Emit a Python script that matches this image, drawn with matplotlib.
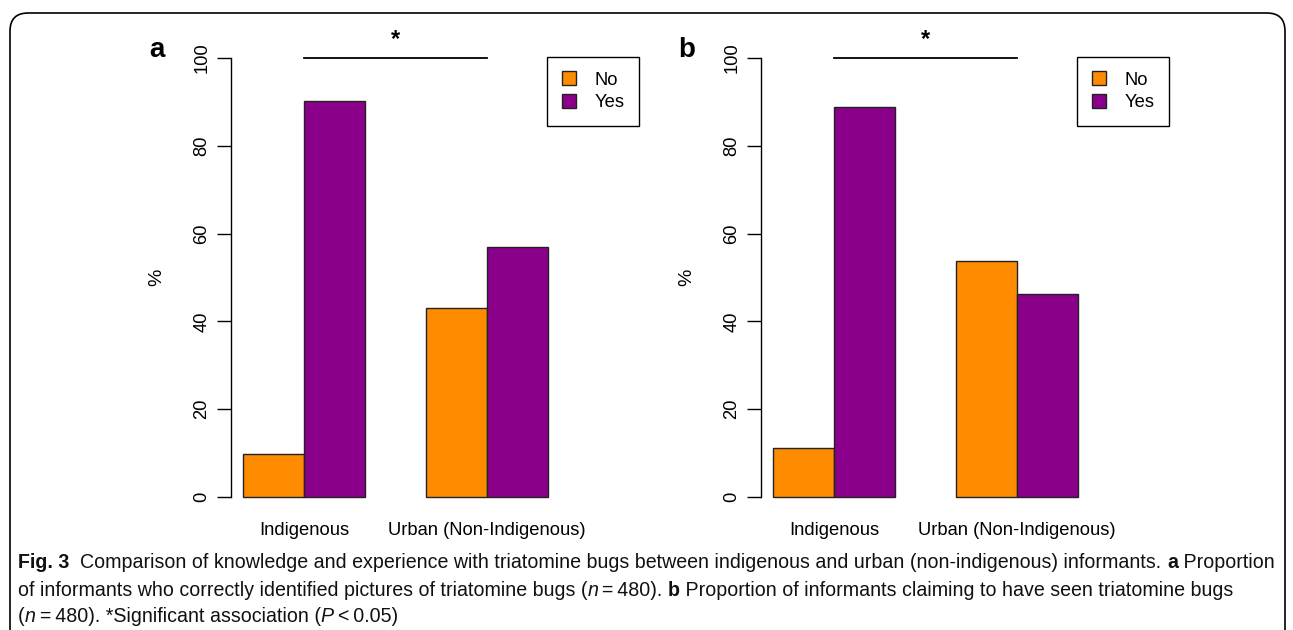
import matplotlib
matplotlib.use('Agg')
import matplotlib.pyplot as plt
from matplotlib.patches import FancyBboxPatch, Patch

groups = ['Indigenous', 'Urban (Non-Indigenous)']
answers = ['No', 'Yes']
panel_a_no = [9.8, 43.0]
panel_a_yes = [90.2, 57.0]
panel_b_no = [11.2, 53.7]
panel_b_yes = [88.8, 46.3]
yticks = [0, 20, 40, 60, 80, 100]
colors = ['#FF8C00', '#8B008B']

W, H = 1293, 630
fig = plt.figure(figsize=(W / 100, H / 100), dpi=100)

body_font = 'Liberation Sans'
cap_font = 'Liberation Sans'

# outer rounded frame
frame = FancyBboxPatch((10 / W, -0.1), (1285 - 10) / W, (H - 13) / H + 0.1,
                       boxstyle='round,pad=0,rounding_size=0.014',
                       transform=fig.transFigure, fill=False, lw=1.2,
                       edgecolor='black', mutation_aspect=W / H)
fig.patches.append(frame)


def draw_panel(left_px, no_vals, yes_vals, letter):
    ax_w = 329
    bottom_px, top_px = 514.6, 40.4
    ax = fig.add_axes([left_px / W, (H - bottom_px) / H, ax_w / W, (bottom_px - top_px) / H])
    ax.set_xlim(0.8, 6.2)
    ax.set_ylim(-4, 104)
    for g in range(len(groups)):
        base = 1 + g * 3
        ax.bar(base, no_vals[g], width=1, align='edge', color=colors[0], edgecolor='#222222', lw=1)
        ax.bar(base + 1, yes_vals[g], width=1, align='edge', color=colors[1], edgecolor='#222222', lw=1)
        ax.text(base + 1, -5.6, groups[g], ha='center', va='top', fontsize=13.2,
                family=body_font, clip_on=False)
    for s in ['top', 'right', 'bottom']:
        ax.spines[s].set_visible(False)
    ax.spines['left'].set_bounds(0, 100)
    ax.spines['left'].set_linewidth(1)
    ax.set_xticks([])
    ax.set_yticks(yticks)
    ax.set_yticklabels([str(t) for t in yticks], rotation=90, va='center', fontsize=13.2, family=body_font)
    ax.tick_params(axis='y', length=10, width=1, pad=5)
    ax.set_ylabel('%', fontsize=14, family=body_font, labelpad=20)
    # significance bar
    ax.plot([2, 5], [100, 100], color='black', lw=1.3, clip_on=False)
    ax.text(3.5, 101.6, '*', ha='center', va='bottom', fontsize=17, fontweight='bold',
            family=body_font, clip_on=False)
    ax.text(-0.42, 101.8, letter, ha='center', va='center', fontsize=20, fontweight='bold',
            family=body_font, clip_on=False)
    handles = [Patch(facecolor=colors[i], edgecolor='#222222', label=answers[i]) for i in range(2)]
    leg = ax.legend(handles=handles, loc='upper left', bbox_to_anchor=(0.960, 0.966),
                    frameon=True, fancybox=False, edgecolor='black', framealpha=1,
                    prop={'family': body_font, 'size': 13.2}, handlelength=0.8,
                    handleheight=0.8, handletextpad=1.0, borderpad=0.8,
                    labelspacing=0.28, borderaxespad=0)
    leg.get_frame().set_linewidth(1)
    return ax


draw_panel(231, panel_a_no, panel_a_yes, 'a')
draw_panel(761, panel_b_no, panel_b_yes, 'b')

# caption, drawn piece by piece
caption = [
    [('Fig. 3', 'bold'), ('  Comparison of knowledge and experience with triatomine bugs between indigenous and urban (non-indigenous) informants. ', 'normal'),
     ('a', 'bold'), (' Proportion', 'normal')],
    [('of informants who correctly identified pictures of triatomine bugs (', 'normal'), ('n', 'italic'),
     ('\u2009=\u2009480). ', 'normal'), ('b', 'bold'), (' Proportion of informants claiming to have seen triatomine bugs', 'normal')],
    [('(', 'normal'), ('n', 'italic'), ('\u2009=\u2009480). *Significant association (', 'normal'), ('P', 'italic'),
     ('\u2009<\u20090.05)', 'normal')],
]
line_y = [563, 591, 617]
renderer = fig.canvas.get_renderer()
for line, y in zip(caption, line_y):
    x = 18
    for txt, style in line:
        kw = {'fontweight': 'bold'} if style == 'bold' else ({'fontstyle': 'italic'} if style == 'italic' else {})
        t = fig.text(x / W, (H - y) / H, txt, ha='left', va='center', fontsize=14.1,
                     family=[cap_font, 'DejaVu Sans'], color='#111111', **kw)
        bb = t.get_window_extent(renderer)
        x += bb.width

fig.savefig('out.png', dpi=100)
